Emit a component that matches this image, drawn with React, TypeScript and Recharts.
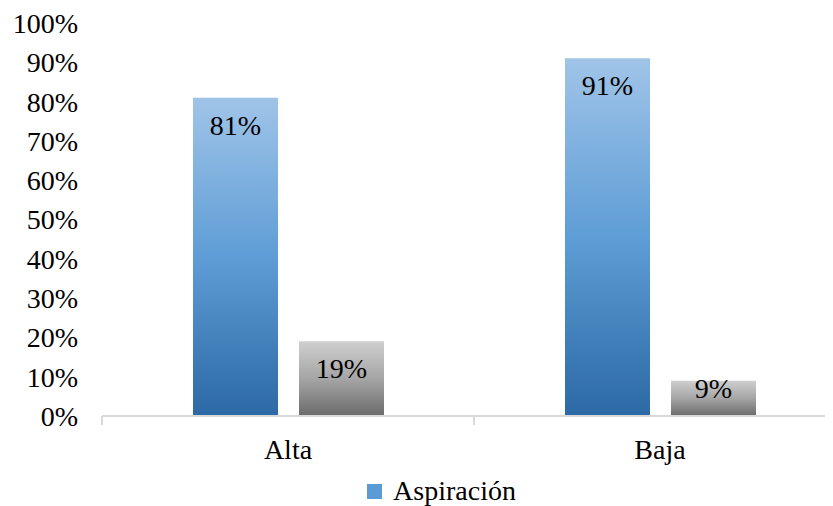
import React from 'react';
import { BarChart, Bar, XAxis, YAxis, Legend, LabelList } from 'recharts';

const categories = ['Alta', 'Baja'];
const aspiracion = [81, 91];
const resto = [19, 9];
const yTicks = [0, 10, 20, 30, 40, 50, 60, 70, 80, 90, 100];

const data = categories.map((name, i) => ({ name, aspiracion: aspiracion[i], resto: resto[i] }));

const FONT = "'Liberation Serif', 'DejaVu Serif', Tinos, 'Times New Roman', Times, serif";
const FONT_SIZE = 28;
const AXIS_GRAY = '#d9d9d9';
const CHART_W = 867;

const pct = (v: number) => `${v}%`;

// value label near the bar top, pushed up when the bar is too short
const BarValue = (props: any) => {
  const { x, y, width, height, value } = props;
  const baseline = Math.min(y + 37, y + height - 18);
  return (
    <text x={x + width / 2} y={baseline} textAnchor="middle" style={{ fontFamily: FONT }} fontSize={FONT_SIZE} fill="#000">
      {pct(value)}
    </text>
  );
};

// category label plus the small tick marks on the band edges
const CategoryTick = (props: any) => {
  const { x, y, payload, index, visibleTicksCount } = props;
  const half = payload.offset ?? 0;
  const lineTop = y - 23;
  return (
    <g>
      <line x1={x - half} x2={x - half} y1={lineTop} y2={lineTop + 9} stroke={AXIS_GRAY} strokeWidth={2} />
      {index === visibleTicksCount - 1 && (
        <line x1={x + half} x2={x + half} y1={lineTop} y2={lineTop + 9} stroke={AXIS_GRAY} strokeWidth={2} />
      )}
      <text x={x} y={y} dy="0.71em" textAnchor="middle" style={{ fontFamily: FONT }} fontSize={FONT_SIZE} fill="#000">
        {payload.value}
      </text>
    </g>
  );
};

const LegendBox = () => (
  <div
    style={{
      display: 'flex',
      justifyContent: 'center',
      alignItems: 'center',
      height: 30,
      fontFamily: FONT,
      fontSize: FONT_SIZE,
      color: '#000',
    }}
  >
    <span style={{ width: 15, height: 15, background: '#5b9bd5', marginRight: 11, display: 'inline-block' }} />
    <span>Aspiración</span>
  </div>
);

const YTick = (props: any) => {
  const { x, y, payload } = props;
  return (
    <text x={x} y={y} dy="0.355em" textAnchor="end" style={{ fontFamily: FONT }} fontSize={FONT_SIZE} fill="#000">
      {pct(payload.value)}
    </text>
  );
};

export default function App() {
  return (
    <div style={{ width: 825, overflow: 'hidden', fontFamily: FONT }}>
      <BarChart
        width={CHART_W}
        height={498}
        data={data}
        margin={{ top: 15, right: 29, left: 0, bottom: 0 }}
        barSize={85}
        barGap={21}
      >
        <defs>
          <linearGradient id="gradAsp" x1="0" y1="0" x2="0" y2="1">
            <stop offset="0%" stopColor="#a0c4e8" />
            <stop offset="50%" stopColor="#5e9dd6" />
            <stop offset="100%" stopColor="#2c69a5" />
          </linearGradient>
          <linearGradient id="gradResto" x1="0" y1="0" x2="0" y2="1">
            <stop offset="0%" stopColor="#cfcfcf" />
            <stop offset="50%" stopColor="#a5a5a5" />
            <stop offset="100%" stopColor="#6b6b6b" />
          </linearGradient>
        </defs>
        <XAxis
          dataKey="name"
          axisLine={{ stroke: AXIS_GRAY, strokeWidth: 2 }}
          tickLine={false}
          tickSize={0}
          tickMargin={23}
          height={60}
          interval={0}
          tick={<CategoryTick />}
        />
        <YAxis
          domain={[0, 100]}
          ticks={yTicks}
          axisLine={false}
          tickLine={false}
          tickSize={0}
          tickMargin={24}
          width={94}
          tick={<YTick />}
        />
        <Bar dataKey="aspiracion" name="Aspiración" fill="url(#gradAsp)" isAnimationActive={false}>
          <LabelList dataKey="aspiracion" content={BarValue} />
        </Bar>
        <Bar dataKey="resto" fill="url(#gradResto)" legendType="none" isAnimationActive={false}>
          <LabelList dataKey="resto" content={BarValue} />
        </Bar>
        <Legend verticalAlign="bottom" content={LegendBox} wrapperStyle={{ left: 0, width: CHART_W }} />
      </BarChart>
    </div>
  );
}
